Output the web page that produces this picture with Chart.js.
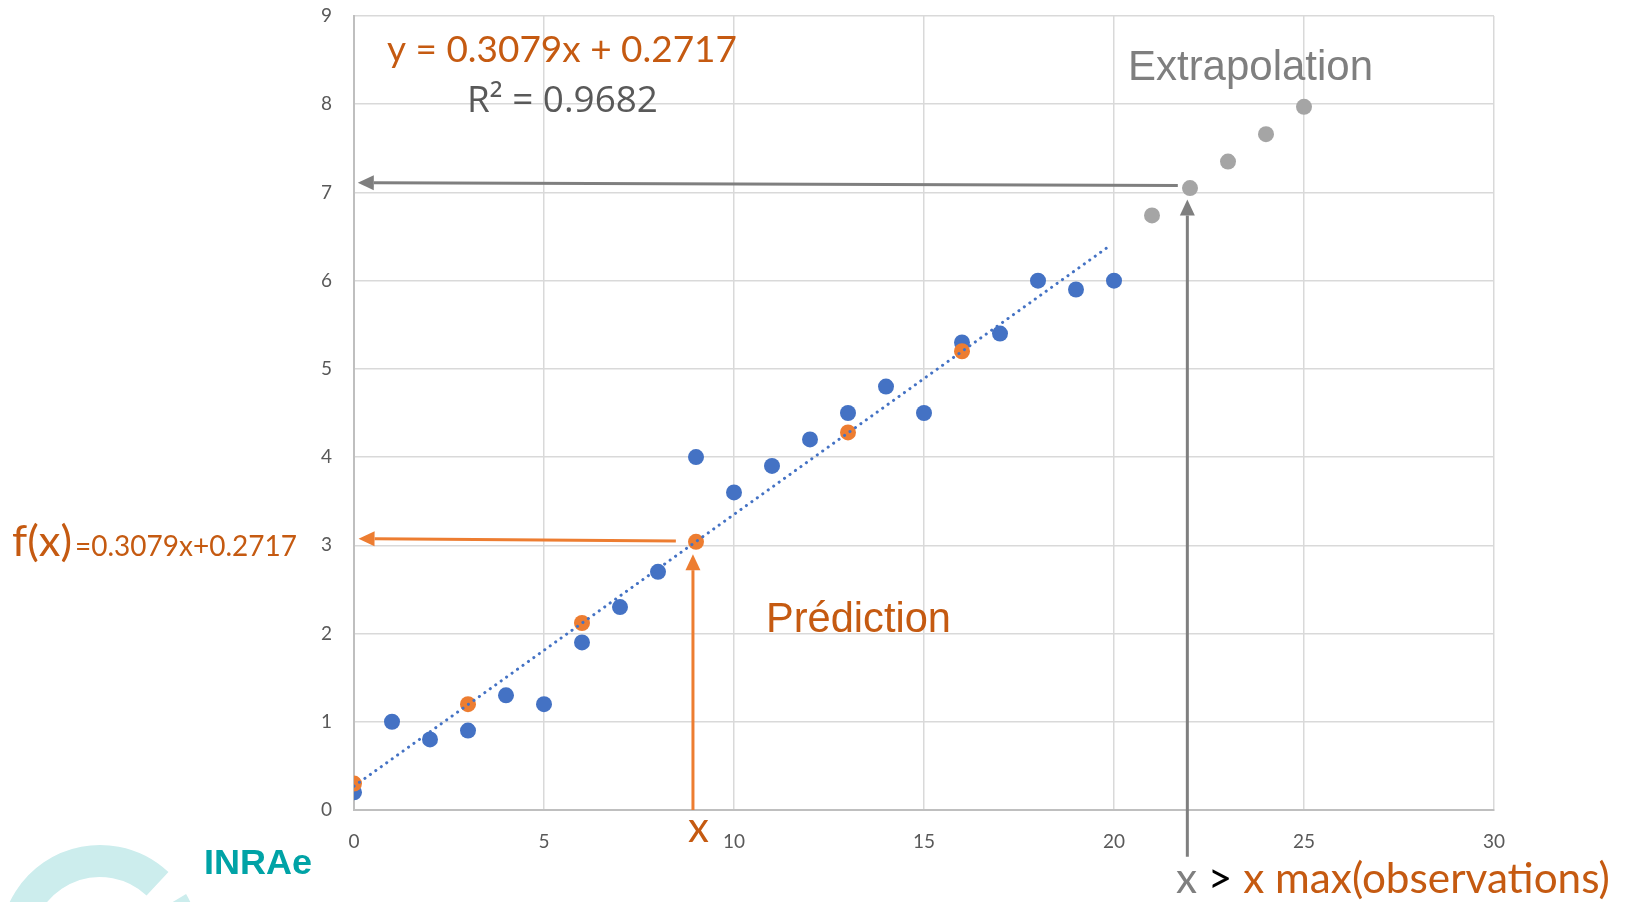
<!DOCTYPE html>
<html>
<head>
<meta charset="utf-8">
<script src="https://cdn.jsdelivr.net/npm/chart.js@4.4.1/dist/chart.umd.min.js"></script>
<style>body{margin:0;background:#fff}canvas{display:block}</style>
</head>
<body>
<canvas id="chart_regression" width="1643" height="902"></canvas>
<script>
// observations (blue)
var obsX = [0, 1, 2, 3, 4, 5, 6, 7, 8, 9, 10, 11, 12, 13, 14, 15, 16, 17, 18, 19, 20];
var obsY = [0.2, 1.0, 0.8, 0.9, 1.3, 1.2, 1.9, 2.3, 2.7, 4.0, 3.6, 3.9, 4.2, 4.5, 4.8, 4.5, 5.3, 5.4, 6.0, 5.9, 6.0];
// predictions on the line (orange)
var predX = [0, 3, 6, 9, 13, 16];
var predY = [0.3, 1.2, 2.12, 3.04, 4.28, 5.2];
// extrapolation (grey)
var extraX = [21, 22, 23, 24, 25];
var extraY = [6.74, 7.05, 7.35, 7.66, 7.97];
// trendline ends
var trendX = [0, 19.87];
var trendY = [0.27, 6.39];
// axes
var xMin = 0, xMax = 30, xStep = 5;
var yMin = 0, yMax = 9, yStep = 1;
// arrows [from, to] in data units
var arrowGrayH = [[21.68, 7.08], [0.1, 7.11]];
var arrowGrayV = [[21.93, -0.53], [21.93, 6.92]];
var arrowOrangeH = [[8.47, 3.05], [0.12, 3.075]];
var arrowOrangeV = [[8.92, 0], [8.92, 2.9]];

function pairs(xs, ys) {
    return xs.map(function (x, i) { return {x: x, y: ys[i]}; });
}

function arrow(ctx, sx, sy, seg, color) {
    var x0 = sx.getPixelForValue(seg[0][0]), y0 = sy.getPixelForValue(seg[0][1]);
    var x1 = sx.getPixelForValue(seg[1][0]), y1 = sy.getPixelForValue(seg[1][1]);
    var a = Math.atan2(y1 - y0, x1 - x0), len = 16, half = 7.5;
    var bx = x1 - len * Math.cos(a), by = y1 - len * Math.sin(a);
    ctx.strokeStyle = color;
    ctx.fillStyle = color;
    ctx.lineWidth = 3;
    ctx.beginPath();
    ctx.moveTo(x0, y0);
    ctx.lineTo(bx, by);
    ctx.stroke();
    ctx.beginPath();
    ctx.moveTo(x1, y1);
    ctx.lineTo(bx + half * Math.sin(a), by - half * Math.cos(a));
    ctx.lineTo(bx - half * Math.sin(a), by + half * Math.cos(a));
    ctx.closePath();
    ctx.fill();
}

// draw text segments fitted to a target width
function fitText(ctx, segs, x, base, width, family, weight) {
    var full = segs.map(function (s) { return s[0]; }).join('');
    ctx.font = (weight || '') + ' 100px ' + family;
    var size = 100 * width / ctx.measureText(full).width;
    ctx.font = (weight || '') + ' ' + size + 'px ' + family;
    ctx.textBaseline = 'alphabetic';
    ctx.textAlign = 'left';
    segs.forEach(function (s) {
        ctx.fillStyle = s[1];
        ctx.fillText(s[0], x, base);
        x += ctx.measureText(s[0]).width;
    });
}

var annotations = {
    id: 'annotations',
    afterDraw: function (chart) {
        var ctx = chart.ctx, sx = chart.scales.x, sy = chart.scales.y;
        ctx.save();
        arrow(ctx, sx, sy, arrowGrayH, '#7F7F7F');
        arrow(ctx, sx, sy, arrowGrayV, '#7F7F7F');
        arrow(ctx, sx, sy, arrowOrangeH, '#ED7D31');
        arrow(ctx, sx, sy, arrowOrangeV, '#ED7D31');

        var calibri = '"Lato", "Open Sans", sans-serif';
        var arial = '"Liberation Sans", Arial, sans-serif';
        fitText(ctx, [['y = 0.3079x + 0.2717', '#C55A11']], 387, 62, 350, calibri);
        fitText(ctx, [['R² = 0.9682', '#595959']], 467, 112, 191, '"Open Sans", sans-serif');
        fitText(ctx, [['Extrapolation', '#7F7F7F']], 1128, 80, 245, arial);
        fitText(ctx, [['Prédiction', '#C55A11']], 766, 632, 185, arial);
        fitText(ctx, [['f(x)', '#C55A11']], 12, 556, 60, calibri);
        fitText(ctx, [['=0.3079x+0.2717', '#C55A11']], 75, 556, 222, calibri);
        ctx.font = '42px ' + calibri;
        ctx.fillStyle = '#C55A11';
        ctx.fillText('x', 688, 842);
        fitText(ctx, [['x', '#7F7F7F'], [' > ', '#000000'], ['x max(observations)', '#C55A11']], 1176, 893, 434, calibri);

        // logo
        ctx.strokeStyle = '#CCEDED';
        ctx.lineCap = 'butt';
        ctx.lineWidth = 32;
        ctx.beginPath();
        ctx.arc(100, 945, 84, Math.PI * 1.06, Math.PI * 1.74);
        ctx.stroke();
        ctx.beginPath();
        ctx.arc(100, 945, 84, Math.PI * 1.83, Math.PI * 1.97);
        ctx.stroke();
        fitText(ctx, [['INRAe', '#00A3A6']], 204, 874, 108, arial, 'bold');
        ctx.restore();
    }
};

var ctxR = document.getElementById('chart_regression').getContext('2d');
var regressionChart = new Chart(ctxR, {
    type: 'scatter',
    data: {
        datasets: [
            {
                label: 'Tendance',
                type: 'line',
                data: pairs(trendX, trendY),
                borderColor: '#4472C4',
                borderWidth: 3,
                borderDash: [0.1, 6.6],
                borderCapStyle: 'round',
                pointRadius: 0,
                fill: false,
                order: 0
            },
            {
                label: 'Prédiction',
                data: pairs(predX, predY),
                backgroundColor: '#ED7D31',
                borderWidth: 0,
                pointRadius: 8,
                order: 1
            },
            {
                label: 'Observations',
                data: pairs(obsX, obsY),
                backgroundColor: '#4472C4',
                borderWidth: 0,
                pointRadius: 8,
                order: 2
            },
            {
                label: 'Extrapolation',
                data: pairs(extraX, extraY),
                backgroundColor: '#A5A5A5',
                borderWidth: 0,
                pointRadius: 8,
                order: 2
            }
        ]
    },
    options: {
        responsive: false,
        animation: false,
        devicePixelRatio: 1,
        layout: {padding: {left: 0, right: 149, top: 16, bottom: 0}},
        plugins: {legend: {display: false}, tooltip: {enabled: false}},
        scales: {
            x: {
                type: 'linear',
                min: xMin, max: xMax,
                afterFit: function (s) { s.height = 92; },
                grid: {color: '#D9D9D9', lineWidth: 1.5, drawTicks: true, tickLength: 18, tickColor: 'rgba(0,0,0,0)'},
                border: {color: '#BFBFBF', width: 2},
                ticks: {stepSize: xStep, padding: 2, color: '#595959', font: {family: 'Lato', size: 19}}
            },
            y: {
                min: yMin, max: yMax,
                afterFit: function (s) { s.width = 354; },
                grid: {color: '#D9D9D9', lineWidth: 1.5, drawTicks: true, tickLength: 20, tickColor: 'rgba(0,0,0,0)'},
                border: {color: '#BFBFBF', width: 2},
                ticks: {stepSize: yStep, padding: 2, color: '#595959', font: {family: 'Lato', size: 19}}
            }
        }
    },
    plugins: [annotations]
});
</script>
</body>
</html>
